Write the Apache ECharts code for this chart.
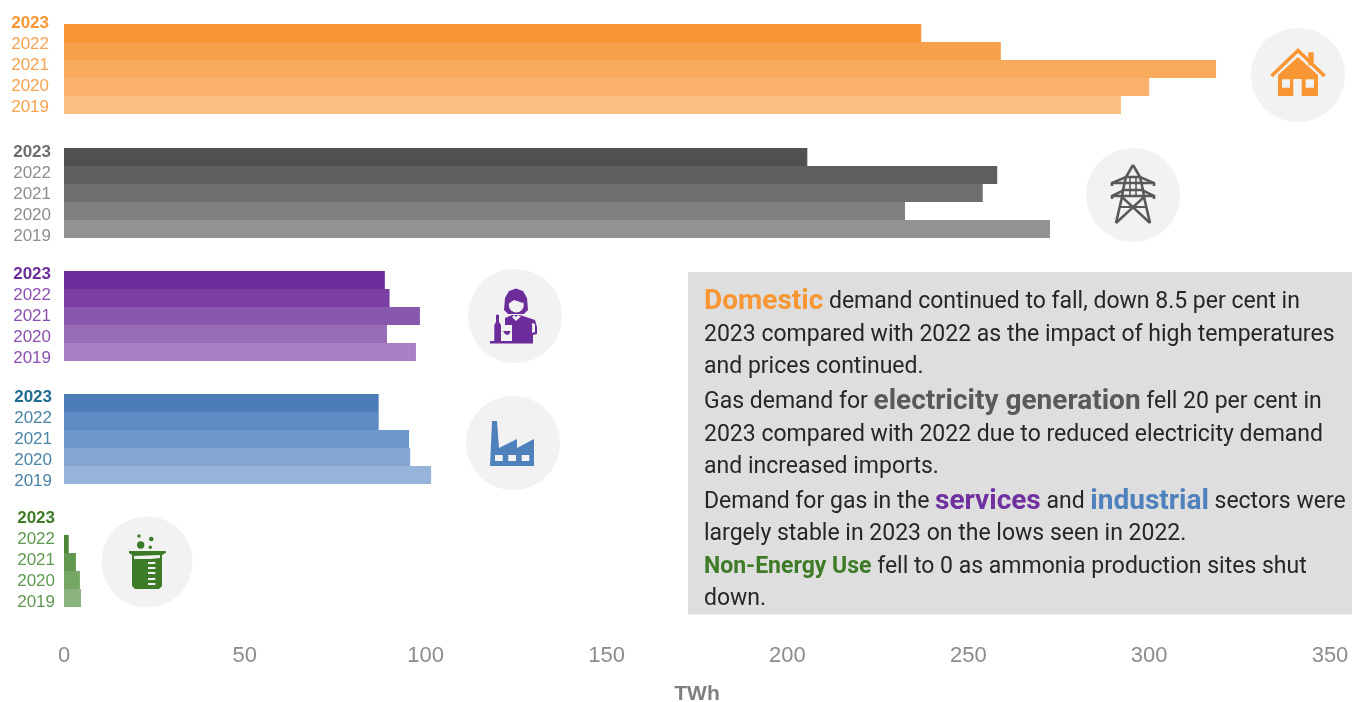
<!DOCTYPE html>
<html><head><meta charset="utf-8">
<script src="https://cdn.jsdelivr.net/npm/echarts@6/dist/echarts.min.js"></script>
<style>html,body{margin:0;padding:0;background:#fff}#c{width:1352px;height:702px}</style>
</head><body><div id="c"></div>
<script>
const years = ['2023','2022','2021','2020','2019'];
const domestic = [237, 259, 318.5, 300, 292.2];
const electricity = [205.5, 258, 254, 232.5, 272.6];
const services = [88.7, 90, 98.4, 89.3, 97.3];
const industrial = [87, 87, 95.4, 95.7, 101.5];
const nonEnergy = [0, 1.3, 3.3, 4.4, 4.7];
const xTicks = {min:0, max:350, interval:50};
const axisTitle = 'TWh';

const domesticColors = ['#F89633','#F79F4B','#F8A95B','#FAB26D','#FBBF82'];
const electricityColors = ['#505050','#5E5E5E','#6F6F6F','#808080','#929292'];
const servicesColors = ['#6C2C9A','#7C40A4','#8858AD','#976DB8','#A880C3'];
const industrialColors = ['#4C7DB9','#5E8BC3','#6E98CC','#84A6D1','#96B3D9'];
const nonEnergyColors = ['#3E7B26','#4B8433','#62984F','#75A663','#89B37A'];

const groups = [
  {name:'Domestic', values:domestic, colors:domesticColors, barTop:24, labelTop:12.5, labelRight:49, bold:'#F89633', reg:'#F9A250'},
  {name:'Electricity generation', values:electricity, colors:electricityColors, barTop:148, labelTop:142, labelRight:51, bold:'#6E6E6E', reg:'#8E8E8E'},
  {name:'Services', values:services, colors:servicesColors, barTop:271, labelTop:264, labelRight:51, bold:'#6C2C9A', reg:'#8C4FB2'},
  {name:'Industrial', values:industrial, colors:industrialColors, barTop:394, labelTop:387, labelRight:52, bold:'#1F6A8F', reg:'#4A84A8'},
  {name:'Non-Energy Use', values:nonEnergy, colors:nonEnergyColors, barTop:517, labelTop:508, labelRight:55, bold:'#3E7B26', reg:'#5F9850'}
];

const grid=[], xAxis=[], yAxis=[], series=[];
groups.forEach((g,i)=>{
  const last = i===groups.length-1;
  grid.push({left:64, width:1266, top:g.barTop, height:90, outerBoundsMode:'none'});
  xAxis.push({gridIndex:grid.length-1, type:'value', ...xTicks, show:last, splitLine:{show:false},
    axisLine:{show:false}, axisTick:{show:false},
    axisLabel:{color:'#8C8C8C', fontSize:22, fontFamily:'Liberation Sans', margin:38},
    name:last?axisTitle:'', nameLocation:'middle', nameGap:77,
    nameTextStyle:{color:'#7F7F7F', fontSize:21, fontWeight:'bold', fontFamily:'Liberation Sans'}});
  yAxis.push({gridIndex:grid.length-1, type:'category', inverse:true, data:years, show:false});
  series.push({name:g.name, type:'bar', xAxisIndex:grid.length-1, yAxisIndex:grid.length-1,
    barWidth:'100%', silent:true, animation:false,
    data:g.values.map((v,k)=>({value:v,itemStyle:{color:g.colors[k]}}))});
  // year labels (tighter pitch than bars in the original)
  grid.push({left:g.labelRight, width:1266, top:g.labelTop, height:105, outerBoundsMode:'none'});
  xAxis.push({gridIndex:grid.length-1, type:'value', ...xTicks, show:false, splitLine:{show:false}});
  yAxis.push({gridIndex:grid.length-1, type:'category', inverse:true, data:years.map((y,k)=>({
      value:y, textStyle:{color:k===0?g.bold:g.reg, fontWeight:k===0?'bold':'normal'}})),
    axisLine:{show:false}, axisTick:{show:false}, splitLine:{show:false},
    axisLabel:{fontSize:17, fontFamily:'Liberation Sans', margin:0, interval:0}});
});

const GR='#F2F2F2', BG='#DEDEDE';
function circle(cx,cy,r,fill){return {type:'circle',shape:{cx,cy,r},style:{fill}};}
function rect(x,y,w,h,fill){return {type:'rect',shape:{x,y,width:w,height:h},style:{fill}};}
function poly(points,fill){return {type:'polygon',shape:{points},style:{fill}};}
function line(points,stroke,lw){return {type:'polyline',shape:{points},style:{stroke,lineWidth:lw,fill:null}};}
function icon(cx,cy,r,kids){return {type:'group',x:cx,y:cy,children:[circle(0,0,r,GR)].concat(kids)};}

const OR='#F89633', DK='#595959', PU='#6C2C9A', BL='#4F81BD', GN='#3E7B26';
const icons=[
 icon(1298,75,47,[
   rect(10.3,-22.7,5.4,13,OR),
   line([[-26.5,1],[0,-24.5],[26.5,1]],OR,3.6),
   poly([[-20,21],[-20,0],[0,-18],[20,0],[20,21]],OR),
   rect(-16,4.3,8,8.4,GR),rect(7.7,4.3,8.3,8.4,GR),rect(-4.7,4,8.4,17,GR)
 ]),
 icon(1133,195,47,[
   line([[0,-30],[-7,-18],[-10,-5],[-11,2],[-17,28]],DK,2.6),
   line([[0,-30],[7,-18],[10,-5],[11,2],[17,28]],DK,2.6),
   line([[-21,-9],[-21,-12],[-7,-18],[7,-18],[21,-12],[21,-9]],DK,2.6),
   line([[-21,-12],[21,-12]],DK,2.6),
   line([[-21,4],[-21,1],[-9,-5],[9,-5],[21,1],[21,4]],DK,2.6),
   line([[-21,1],[21,1]],DK,2.6),
   line([[-11,2],[17,28]],DK,2.4), line([[11,2],[-17,28]],DK,2.4),
   line([[-13,12],[13,12]],DK,2),
   line([[-3,-18],[-3,1]],DK,1.6), line([[3,-18],[3,1]],DK,1.6)
 ]),
 icon(515,316,47,[
   poly([[-11,-6],[-10,-18],[-6,-25],[1,-27.5],[8,-25],[12,-18],[13,-6],[9,-2],[-7,-2]],PU),
   circle(1.3,-11,7.5,GR),
   poly([[-7,-12],[-1,-16],[8,-13],[8,-20],[-7,-20]],PU),
   poly([[-10,2],[-3,-1],[5,-1],[20,4],[22,11],[22,18],[18,19],[18,25],[-3,25],[-3,9],[-10,9]],PU),
   poly([[-3,1],[1,5],[6,0.5],[3,-1],[1,1],[-1,-1]],GR),
   poly([[17,7],[20,8],[20,16],[17,17]],GR),
   poly([[-19,-1.3],[-16,-1.3],[-16,6],[-14,9],[-14,25],[-20.7,25],[-20.7,9],[-19,6]],PU),
   poly([[-13,11],[-3.5,11],[-4.5,18],[-7.5,20],[-7.5,24],[-4,25],[-12,25],[-8.5,24],[-8.5,20],[-11.5,18]],GR),
   poly([[-12,15],[-4.5,15],[-5.5,18],[-7.7,19],[-10,18]],PU),
   rect(-25,25,43,2.5,PU)
 ]),
 icon(513,443,47,[
   poly([[-23,23],[-21,-22],[-16,-22],[-14,5],[4,-4],[4,5],[21,-4],[21,23]],BL),
   rect(-18,12,7.7,6,GR),rect(-4.7,12,7.7,6,GR),rect(8.7,12,7.6,6,GR)
 ]),
 icon(147,562,45.5,[
   poly([[-18,-11],[18.7,-11],[18.7,-9],[15,-7],[15,24],[12,27],[-12,27],[-15,24],[-15,-7],[-18,-9]],GN),
   poly([[-13,-6],[13,-7],[13,-4],[4,-3],[-13,-3]],GR),
   rect(1,0,7.3,2,GR),rect(1,5,7.3,2,GR),rect(1,10,7.3,2,GR),rect(1,16,7.3,2,GR),rect(1,21,7.3,2,GR),
   circle(-6.3,-17,3.7,GN),circle(4.3,-23,2.3,GN),circle(3.3,-14.7,1.7,GN),circle(-8,-26,1.7,GN)
 ])
];

const textLines=[
 '{o|Domestic} demand continued to fall, down 8.5 per cent in',
 '2023 compared with 2022 as the impact of high temperatures',
 'and prices continued.',
 'Gas demand for {g|electricity generation} fell 20 per cent in',
 '2023 compared with 2022 due to reduced electricity demand',
 'and increased imports.',
 'Demand for gas in the {p|services} and {b|industrial} sectors were',
 'largely stable in 2023 on the lows seen in 2022.',
 '{n|Non-Energy Use} fell to 0 as ammonia production sites shut',
 'down.'
];
const lineY=[302,335,367,402,435,467,502,534,567,599];
const F='Roboto';
const H=28;
const rich={
 o:{fill:'#F89633',fontWeight:'bold',fontSize:H,fontFamily:F},
 g:{fill:'#595959',fontWeight:'bold',fontSize:H,fontFamily:F},
 p:{fill:'#7030A0',fontWeight:'bold',fontSize:H,fontFamily:F},
 b:{fill:'#4F81BD',fontWeight:'bold',fontSize:H,fontFamily:F},
 n:{fill:'#3E7B26',fontWeight:'bold',fontSize:23,fontFamily:F}
};
const textEls=textLines.map((t,i)=>({type:'text',x:704,y:lineY[i],
  style:{text:t,rich,fontSize:23,fontFamily:F,fill:'#262626',verticalAlign:'middle',align:'left'}}));

const chart=echarts.init(document.getElementById('c'),null,{renderer:'canvas'});
chart.setOption({
  animation:false, backgroundColor:'#fff', grid, xAxis, yAxis, series,
  graphic:[rect(688,272,664,342.5,BG)].concat(icons,textEls)
});
</script></body></html>
